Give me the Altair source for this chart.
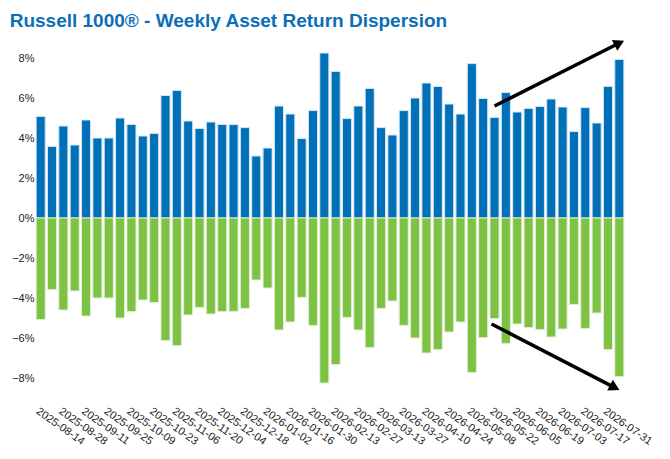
import altair as alt
import pandas as pd

dates = [
    "2025-08-14", "2025-08-21", "2025-08-28", "2025-09-04", "2025-09-11", "2025-09-18",
    "2025-09-25", "2025-10-02", "2025-10-09", "2025-10-16", "2025-10-23", "2025-10-30",
    "2025-11-06", "2025-11-13", "2025-11-20", "2025-11-27", "2025-12-04", "2025-12-11",
    "2025-12-18", "2025-12-26", "2026-01-02", "2026-01-09", "2026-01-16", "2026-01-23",
    "2026-01-30", "2026-02-06", "2026-02-13", "2026-02-20", "2026-02-27", "2026-03-06",
    "2026-03-13", "2026-03-20", "2026-03-27", "2026-04-03", "2026-04-10", "2026-04-17",
    "2026-04-24", "2026-05-01", "2026-05-08", "2026-05-15", "2026-05-22", "2026-05-29",
    "2026-06-05", "2026-06-12", "2026-06-19", "2026-06-26", "2026-07-03", "2026-07-10",
    "2026-07-17", "2026-07-24", "2026-07-31", "2026-08-07",
]

upside = [
    5.08, 3.58, 4.60, 3.65, 4.90, 4.00, 4.00, 5.00, 4.68, 4.10,
    4.23, 6.13, 6.38, 4.85, 4.48, 4.80, 4.68, 4.67, 4.52, 3.10,
    3.50, 5.60, 5.20, 3.97, 5.37, 8.25, 7.33, 4.97, 5.60, 6.48,
    4.52, 4.15, 5.37, 6.00, 6.75, 6.58, 5.70, 5.20, 7.72, 5.98,
    5.03, 6.27, 5.30, 5.48, 5.58, 5.95, 5.55, 4.32, 5.52, 4.75,
    6.58, 7.93,
]

downside = [
    -5.08, -3.58, -4.60, -3.65, -4.90, -4.00, -4.00, -5.00, -4.68, -4.10,
    -4.23, -6.13, -6.38, -4.85, -4.48, -4.80, -4.68, -4.67, -4.52, -3.10,
    -3.50, -5.60, -5.20, -3.97, -5.37, -8.25, -7.33, -4.97, -5.60, -6.48,
    -4.52, -4.15, -5.37, -6.00, -6.75, -6.58, -5.70, -5.20, -7.72, -5.98,
    -5.03, -6.27, -5.30, -5.48, -5.58, -5.95, -5.55, -4.32, -5.52, -4.75,
    -6.58, -7.93,
]

tick_labels = dates[0:51:2]
y_ticks = [-8, -6, -4, -2, 0, 2, 4, 6, 8]

# arrow annotations (data coordinates)
arrow_x = ["2026-05-22", "2026-05-22"]
arrow_x2 = ["2026-08-07", "2026-08-07"]
arrow_y = [5.6, -5.3]
arrow_y2 = [8.75, -8.48]
arrow_angle = [63.4, 117.2]

df = pd.DataFrame({"date": dates, "up": upside, "down": downside})

xenc = alt.X(
    "date:N",
    sort=dates,
    title=None,
    scale=alt.Scale(paddingInner=0.2, paddingOuter=0.1),
    axis=alt.Axis(
        values=tick_labels,
        labelAngle=35,
        labelAlign="left",
        labelBaseline="top",
        labelPadding=7,
        labelFontSize=11,
        labelColor="#222222",
        labelFont="Liberation Sans",
        domain=False,
        ticks=False,
        labelOverlap=False,
    ),
)

yscale = alt.Scale(domain=[-9, 9], nice=False)
yaxis = alt.Axis(
    values=y_ticks,
    labelExpr="format(datum.value, 'd') + '%'",
    labelFontSize=11,
    labelColor="#222222",
    labelFont="Liberation Sans",
    labelPadding=1,
    domain=False,
    ticks=False,
    grid=False,
)

up_bars = alt.Chart(df).mark_bar(
    color="#0070b8", stroke="#d8e6f2", strokeWidth=1
).encode(x=xenc, y=alt.Y("up:Q", scale=yscale, axis=yaxis, title=None))

down_bars = alt.Chart(df).mark_bar(
    color="#7dc242", stroke="#e2efd8", strokeWidth=1
).encode(x=xenc, y=alt.Y("down:Q", scale=yscale, title=None))

upper = pd.DataFrame({"x": [arrow_x[0]], "x2": [arrow_x2[0]], "y": [arrow_y[0]], "y2": [arrow_y2[0]], "a": [arrow_angle[0]]})
lower = pd.DataFrame({"x": [arrow_x[1]], "x2": [arrow_x2[1]], "y": [arrow_y[1]], "y2": [arrow_y2[1]], "a": [arrow_angle[1]]})

up_line = alt.Chart(upper).mark_rule(color="black", strokeWidth=3.5).encode(
    x=alt.X("x:N", sort=dates), x2="x2:N", y=alt.Y("y:Q", scale=yscale), y2="y2:Q"
)
up_head = alt.Chart(upper).mark_point(
    shape="triangle-up", filled=True, color="black", size=150, opacity=1
).encode(x=alt.X("x2:N", sort=dates), y=alt.Y("y2:Q", scale=yscale), angle=alt.Angle("a:Q", scale=None))

lo_line = alt.Chart(lower).mark_rule(color="black", strokeWidth=3.5, xOffset=-3, x2Offset=-4.6).encode(
    x=alt.X("x:N", sort=dates), x2="x2:N", y=alt.Y("y:Q", scale=yscale), y2="y2:Q"
)
lo_head = alt.Chart(lower).mark_point(
    shape="triangle-up", filled=True, color="black", size=150, opacity=1, xOffset=-4.6
).encode(x=alt.X("x2:N", sort=dates), y=alt.Y("y2:Q", scale=yscale), angle=alt.Angle("a:Q", scale=None))

chart = alt.layer(up_bars, down_bars, up_line, up_head, lo_line, lo_head).properties(
    width=590,
    height=360,
    padding={"left": 1, "top": 4, "right": 5, "bottom": 5},
    title=alt.TitleParams(
        text="Russell 1000® - Weekly Asset Return Dispersion",
        anchor="start",
        frame="bounds",
        dx=-2,
        fontSize=19,
        fontWeight="bold",
        font="Liberation Sans",
        color="#0a6fb7",
        offset=7,
    ),
).configure_view(stroke=None)

chart.save("out.html", embed_options={"renderer": "svg", "actions": False})
